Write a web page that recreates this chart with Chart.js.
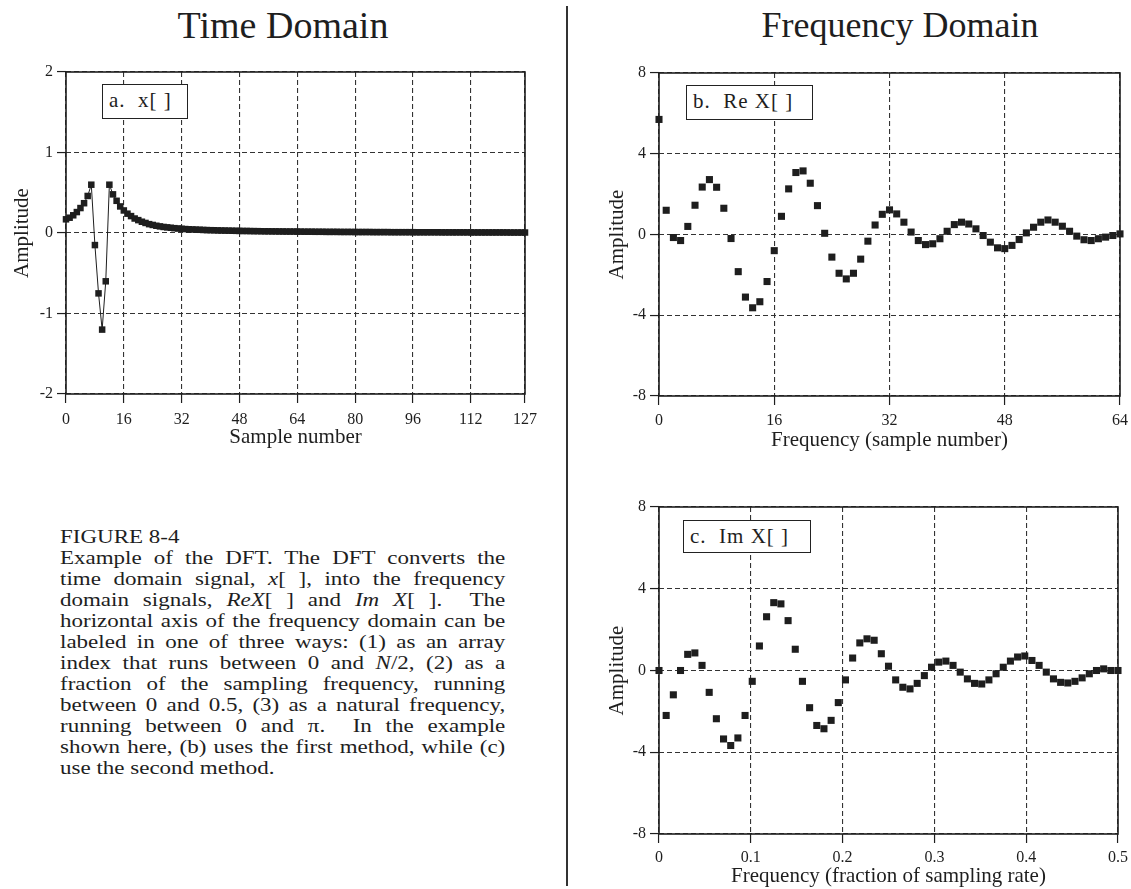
<!DOCTYPE html>
<html>
<head>
<meta charset="utf-8">
<script src="https://cdn.jsdelivr.net/npm/chart.js@4.4.0/dist/chart.umd.min.js"></script>
<style>
  body { margin: 0; background: #fff; }
  #page { position: relative; width: 1131px; height: 889px; overflow: hidden;
          font-family: 'Liberation Serif', 'Times New Roman', serif; color: #1e1e1e; }
  .heading { position: absolute; top: 5px; font-size: 36px; line-height: 40px; text-align: center; }
  .panel { position: absolute; }
  .tag { position: absolute; box-sizing: border-box; border: 1.5px solid #222; background: #fff;
         font-size: 21px; line-height: 30px; padding-left: 6px; white-space: pre; letter-spacing: 1px; }
  #divider { position: absolute; left: 566px; top: 6px; width: 1.5px; height: 880px; background: #333; }
  #caption { position: absolute; left: 60px; top: 526px; width: 368px; font-size: 19px; line-height: 21px;
             transform: scaleX(1.21); transform-origin: 0 0; }
  #caption span { display: block; white-space: nowrap; text-align: justify; text-align-last: justify; }
  #caption span.plain { text-align-last: left; }
</style>
</head>
<body>
<div id="page">
  <div class="heading" style="left:0; width:566px; font-size:38px;">Time Domain</div>
  <div class="heading" style="left:640px; width:520px;">Frequency Domain</div>
  <div id="divider"></div>

  <div class="panel" style="left:0; top:40px;"><canvas id="timeChart" width="565" height="430"></canvas></div>
  <div class="panel" style="left:595px; top:40px;"><canvas id="reChart" width="560" height="430"></canvas></div>
  <div class="panel" style="left:595px; top:478px;"><canvas id="imChart" width="560" height="411"></canvas></div>

  <div class="tag" style="left:102px; top:84px; width:86px; height:35px;">a.  x[ ]</div>
  <div class="tag" style="left:686px; top:85px; width:127px; height:35px;">b.  Re X[ ]</div>
  <div class="tag" style="left:683px; top:520px; width:128px; height:33px;">c.  Im X[ ]</div>

  <div id="caption">
    <span class="plain">FIGURE 8-4</span>
    <span>Example of the DFT. The DFT converts the</span>
    <span>time domain signal, <i>x</i>[ ], into the frequency</span>
    <span>domain signals, <i>ReX</i>[ ] and <i>Im X</i>[ ].&nbsp; The</span>
    <span>horizontal axis of the frequency domain can be</span>
    <span>labeled in one of three ways: (1) as an array</span>
    <span>index that runs between 0 and <i>N</i>/2, (2) as a</span>
    <span>fraction of the sampling frequency, running</span>
    <span>between 0 and 0.5, (3) as a natural frequency,</span>
    <span>running between 0 and &pi;.&nbsp; In the example</span>
    <span>shown here, (b) uses the first method, while (c)</span>
    <span class="plain">use the second method.</span>
  </div>
</div>

<script>
// x[n], n = 0..127
const timeSignal = [
  0.17, 0.19, 0.22, 0.26, 0.31, 0.37, 0.46, 0.60,
  -0.15, -0.75, -1.20, -0.60,
  0.60, 0.48, 0.40, 0.33, 0.28, 0.24, 0.21, 0.18, 0.16, 0.14,
  0.125, 0.11, 0.10, 0.09, 0.082, 0.075, 0.07, 0.065, 0.06, 0.056,
  0.052, 0.049, 0.046, 0.044, 0.042, 0.040, 0.038, 0.036, 0.035, 0.034,
  0.032, 0.031, 0.030, 0.029, 0.028, 0.027, 0.026, 0.025, 0.025, 0.024,
  0.023, 0.023, 0.022, 0.021, 0.021, 0.020, 0.020, 0.019, 0.019, 0.018,
  0.018, 0.018, 0.017, 0.017, 0.016, 0.016, 0.016, 0.015, 0.015, 0.015,
  0.014, 0.014, 0.014, 0.014, 0.013, 0.013, 0.013, 0.013, 0.012, 0.012,
  0.012, 0.012, 0.012, 0.011, 0.011, 0.011, 0.011, 0.011, 0.010, 0.010,
  0.010, 0.010, 0.010, 0.010, 0.010, 0.009, 0.009, 0.009, 0.009, 0.009,
  0.009, 0.009, 0.008, 0.008, 0.008, 0.008, 0.008, 0.008, 0.008, 0.008,
  0.008, 0.007, 0.007, 0.007, 0.007, 0.007, 0.007, 0.007, 0.007, 0.007,
  0.007, 0.006, 0.006, 0.006, 0.006, 0.006,
];

// Re X[k], k = 0..64
const reX = [
  5.7, 1.2, -0.15, -0.3, 0.4, 1.45, 2.35, 2.72, 2.34, 1.3,
  -0.2, -1.84, -3.1, -3.63, -3.33, -2.33, -0.8, 0.9, 2.26, 3.07,
  3.15, 2.54, 1.43, 0.06, -1.12, -1.92, -2.2, -1.92, -1.22, -0.33,
  0.47, 1.0, 1.22, 1.02, 0.61, 0.12, -0.3, -0.5, -0.46, -0.21,
  0.16, 0.49, 0.61, 0.52, 0.28, -0.05, -0.38, -0.66, -0.7, -0.54,
  -0.25, 0.08, 0.36, 0.61, 0.72, 0.61, 0.41, 0.16, -0.08, -0.26,
  -0.3, -0.21, -0.13, -0.05, 0.03,
];

// Im X[k], k = 0..64
const imX = [
  0, -2.2, -1.19, 0, 0.79, 0.86, 0.25, -1.07, -2.36, -3.35,
  -3.67, -3.3, -2.2, -0.53, 1.2, 2.63, 3.32, 3.26, 2.44, 1.04,
  -0.53, -1.82, -2.69, -2.85, -2.44, -1.57, -0.46, 0.61, 1.35, 1.55,
  1.48, 0.82, 0.21, -0.46, -0.82, -0.9, -0.63, -0.25, 0.16, 0.41,
  0.46, 0.25, -0.08, -0.41, -0.63, -0.66, -0.46, -0.16, 0.16, 0.46,
  0.66, 0.71, 0.49, 0.25, -0.08, -0.41, -0.58, -0.61, -0.53, -0.36,
  -0.16, 0, 0.08, 0, 0,
];

const pointsPerCycle = 128; // N, so k/N is the fraction of the sampling rate

const timeTicks = [0, 16, 32, 48, 64, 80, 96, 112, 127];
const timeTickLabels = ['0', '16', '32', '48', '64', '80', '96', '112', '127'];
const timeAmpTicks = [-2, -1, 0, 1, 2];
const timeAmpLabels = ['-2', '-1', '0', '1', '2'];
const indexTicks = [0, 16, 32, 48, 64];
const indexTickLabels = ['0', '16', '32', '48', '64'];
const fractionTicks = [0, 0.1, 0.2, 0.3, 0.4, 0.5];
const fractionTickLabels = ['0', '0.1', '0.2', '0.3', '0.4', '0.5'];
const freqAmpTicks = [-8, -4, 0, 4, 8];
const freqAmpLabels = ['-8', '-4', '0', '4', '8'];

const ink = '#1e1e1e';
const tickFont = { family: "'Liberation Serif', 'Times New Roman', serif", size: 16 };
const titleFont = { family: "'Liberation Serif', 'Times New Roman', serif", size: 21 };

// solid frame around the plot area, over the dashed grid
const plotBox = {
  id: 'plotBox',
  beforeDatasetsDraw(chart) {
    const { ctx, chartArea: a } = chart;
    ctx.save();
    ctx.strokeStyle = ink;
    ctx.lineWidth = 1.6;
    ctx.strokeRect(a.left, a.top, a.right - a.left, a.bottom - a.top);
    ctx.restore();
  },
};

function makeAxis(tickValues, tickLabels, min, max, title, fit, titlePadding, labelGap) {
  return {
    type: 'linear',
    min,
    max,
    afterBuildTicks: (scale) => { scale.ticks = tickValues.map((v) => ({ value: v })); },
    afterFit: fit,
    ticks: {
      autoSkip: false,
      maxRotation: 0,
      color: ink,
      font: tickFont,
      padding: labelGap,
      callback: (value, i) => tickLabels[i],
    },
    grid: {
      color: '#333',
      lineWidth: 1.1,
      drawTicks: true,
      tickLength: 9,
      tickColor: ink,
      tickWidth: 1.2,
      tickBorderDash: [],
    },
    border: { display: false, dash: [5, 3] },
    title: { display: true, text: title, color: ink, font: titleFont, padding: titlePadding },
  };
}

function makeChart(id, points, showLine, radius, padding, xAxis, yAxis) {
  return new Chart(document.getElementById(id), {
    type: 'scatter',
    data: {
      datasets: [{
        data: points,
        showLine,
        borderColor: ink,
        borderWidth: 1,
        pointStyle: 'rect',
        pointRadius: radius,
        pointBackgroundColor: ink,
        pointBorderWidth: 0,
        clip: false,
      }],
    },
    options: {
      responsive: false,
      animation: false,
      layout: { padding },
      plugins: { legend: { display: false }, tooltip: { enabled: false } },
      scales: { x: xAxis, y: yAxis },
    },
    plugins: [plotBox],
  });
}

makeChart(
  'timeChart',
  timeSignal.map((v, n) => ({ x: n, y: v })),
  true,
  4.6,
  { top: 32, right: 40, left: 2, bottom: 0 },
  makeAxis(timeTicks, timeTickLabels, 0, 127, 'Sample number', (s) => { s.height = 76; }, { top: 0, bottom: 20 }, 7),
  makeAxis(timeAmpTicks, timeAmpLabels, -2, 2, 'Amplitude', (s) => { s.width = 64; }, { top: 8, bottom: 0 }, 4),
);

makeChart(
  'reChart',
  reX.map((v, k) => ({ x: k, y: v })),
  false,
  5,
  { top: 33, right: 35, left: 0, bottom: 0 },
  makeAxis(indexTicks, indexTickLabels, 0, 64, 'Frequency (sample number)', (s) => { s.height = 74; }, { top: 0, bottom: 17 }, 6),
  makeAxis(freqAmpTicks, freqAmpLabels, -8, 8, 'Amplitude', (s) => { s.width = 64; }, { top: 10, bottom: 0 }, 4),
);

makeChart(
  'imChart',
  imX.map((v, k) => ({ x: k / pointsPerCycle, y: v })),
  false,
  5,
  { top: 29, right: 37, left: 0, bottom: 0 },
  makeAxis(fractionTicks, fractionTickLabels, 0, 0.5, 'Frequency (fraction of sampling rate)', (s) => { s.height = 55; }, { top: 0, bottom: 0 }, 5),
  makeAxis(freqAmpTicks, freqAmpLabels, -8, 8, 'Amplitude', (s) => { s.width = 64; }, { top: 10, bottom: 0 }, 4),
);
</script>
</body>
</html>
